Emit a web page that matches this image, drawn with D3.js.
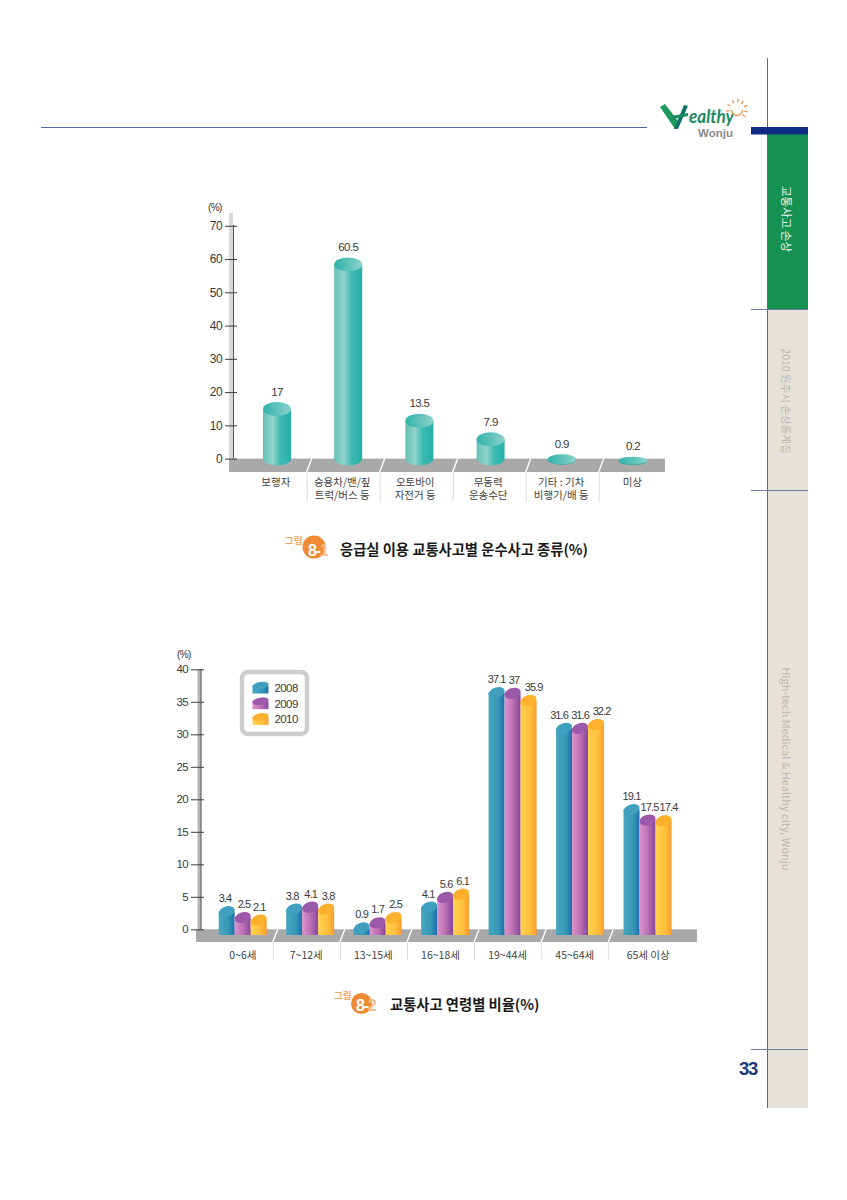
<!DOCTYPE html>
<html>
<head>
<meta charset="utf-8">
<script src="https://cdn.jsdelivr.net/npm/d3@7/dist/d3.min.js"></script>
<style>
html, body { margin: 0; padding: 0; background: #fff; }
svg { display: block; }
text { font-family: "Noto Sans CJK KR", "Liberation Sans", sans-serif; }
text.num, .tick text { font-family: "Liberation Sans", sans-serif; letter-spacing: -0.6px; }
text.tight { letter-spacing: -0.9px; }
</style>
</head>
<body>
<div id="page"></div>
<script>
// Figure 8-1
var modeCategories = [["보행자"], ["승용차/밴/짚", "트럭/버스 등"], ["오토바이", "자전거 등"], ["무동력", "운송수단"], ["기타 : 기차", "비행기/배 등"], ["미상"]];
var modeValues = [17, 60.5, 13.5, 7.9, 0.9, 0.2];
var modeTicks = [0, 10, 20, 30, 40, 50, 60, 70];

// Figure 8-2
var ageCategories = ["0~6세", "7~12세", "13~15세", "16~18세", "19~44세", "45~64세", "65세 이상"];
var years = ["2008", "2009", "2010"];
var values2008 = [3.4, 3.8, 0.9, 4.1, 37.1, 31.6, 19.1];
var values2009 = [2.5, 4.1, 1.7, 5.6, 37, 31.6, 17.5];
var values2010 = [2.1, 3.8, 2.5, 6.1, 35.9, 32.2, 17.4];
var ageTicks = [0, 5, 10, 15, 20, 25, 30, 35, 40];

var svg = d3.select("#page").append("svg")
    .attr("width", 847)
    .attr("height", 1200);
var defs = svg.append("defs");

function gradient(id, stops) {
  var g = defs.append("linearGradient").attr("id", id);
  stops.forEach(function(s) {
    g.append("stop").attr("offset", s[0]).attr("stop-color", s[1]);
  });
}

gradient("tealBody", [[0, "#62bfb6"], [0.35, "#93d4cc"], [0.62, "#3dbab2"], [1, "#27b0a9"]]);
gradient("tealTop", [[0, "#2fb3ab"], [1, "#8dd2ca"]]);
gradient("blueBody", [[0, "#49a6bf"], [0.6, "#3798b6"], [1, "#1c6fad"]]);
gradient("purpleBody", [[0, "#dc93cc"], [0.5, "#bd72b4"], [1, "#84459b"]]);
gradient("orangeBody", [[0, "#ffd050"], [0.6, "#ffc03c"], [1, "#f99b2c"]]);
var seriesFill = ["url(#blueBody)", "url(#purpleBody)", "url(#orangeBody)"];
var seriesTop = ["#3f9fbd", "#9c58a9", "#fdb02c"];

drawPageFrame();
drawModeChart();
drawAgeChart();
drawCaption(314, 547, 11.5, 308, 556, 285, 544, "8-", "1", "응급실 이용 교통사고별 운수사고 종류(%)", 340, 555);
drawCaption(361.5, 1003.5, 10.5, 356, 1011, 334, 999, "8-", "2", "교통사고 연령별 비율(%)", 390, 1010);

function yAxis(scale, ticks, x, left, right, size) {
  // axis ticks come from d3, then restyled to the long dark marks of the original
  var g = svg.append("g")
      .attr("transform", "translate(" + x + ",0)")
      .call(d3.axisLeft(scale).tickValues(ticks).tickSize(0).tickPadding(x - left + 3));
  g.select(".domain").remove();
  g.selectAll(".tick line")
      .attr("x1", left - x)
      .attr("x2", right - x)
      .attr("stroke", "#3d3d3d")
      .attr("stroke-width", 1);
  g.selectAll(".tick text")
      .style("font-size", size + "px")
      .attr("fill", "#3a3a3a");
  return g;
}

function drawModeChart() {
  var y = d3.scaleLinear().domain([0, 70]).range([458.6, 225.8]);
  var xBar = d3.scaleBand().domain(d3.range(6)).range([241.4, 668.6]);
  var xCell = d3.scaleLinear().domain([0, 5]).range([233.7, 598.7]);
  var barW = 28, ry = 7;
  var floorTop = y(0), floorBottom = 472;

  svg.append("rect").attr("x", 229).attr("y", 213).attr("width", 4).attr("height", floorTop - 213).attr("fill", "#d8d8d8");
  svg.append("line").attr("x1", 233.5).attr("x2", 233.5).attr("y1", 225).attr("y2", floorTop).attr("stroke", "#555").attr("stroke-width", 1);
  svg.append("rect").attr("x", 229).attr("y", floorTop).attr("width", 436).attr("height", floorBottom - floorTop).attr("fill", "#a9a9a9");
  yAxis(y, modeTicks, 233, 225, 237, 12);
  svg.append("text").attr("class", "num").attr("x", 208).attr("y", 211).attr("font-size", 10).attr("fill", "#333").text("(%)");

  // cell dividers on the floor and under it
  d3.range(1, 6).forEach(function(i) {
    var x = xCell(i);
    svg.append("line").attr("x1", x).attr("x2", x + 5).attr("y1", floorBottom).attr("y2", floorTop).attr("stroke", "#fff").attr("stroke-width", 1.4);
    svg.append("line").attr("x1", x + 0.5).attr("x2", x + 0.5).attr("y1", floorBottom).attr("y2", 502).attr("stroke", "#dcdcdc").attr("stroke-width", 1);
  });

  modeValues.forEach(function(v, i) {
    var x0 = xBar(i) + (xBar.bandwidth() - barW) / 2;
    var cx = x0 + barW / 2;
    var flat = y(v) + ry > y(0) - 2;       // the two smallest values are just discs
    var r = flat ? 3.6 + v * 1.5 : ry;
    var topY = flat ? y(v) + r - 1.3 : y(v) + ry;
    var baseY = y(0);
    if (flat) {
      svg.append("ellipse").attr("cx", cx).attr("cy", topY + 0.6).attr("rx", barW / 2).attr("ry", r).attr("fill", "#2ea69f");
    } else {
      svg.append("path")
          .attr("d", "M" + x0 + "," + topY + "L" + x0 + "," + baseY + "A" + barW / 2 + "," + ry + " 0 0 0 " + (x0 + barW) + "," + baseY + "L" + (x0 + barW) + "," + topY + "Z")
          .attr("fill", "url(#tealBody)");
    }
    svg.append("ellipse").attr("cx", cx).attr("cy", topY).attr("rx", barW / 2).attr("ry", r).attr("fill", "url(#tealTop)");
    svg.append("text").attr("class", "num")
        .attr("x", cx).attr("y", y(v) - (flat ? 7.5 : 6.5))
        .attr("text-anchor", "middle").attr("font-size", 11.5).attr("fill", "#3a3a3a")
        .text(v);
  });

  modeCategories.forEach(function(lines, i) {
    var left = i === 0 ? 247 : xCell(i);
    var right = i === 5 ? 668 : xCell(i + 1);
    var t = svg.append("text").attr("text-anchor", "middle").attr("font-size", 10.5).attr("fill", "#3f3f3f");
    lines.forEach(function(s, k) {
      t.append("tspan").attr("x", (left + right) / 2 - 1).attr("y", 486 + k * 13.4).text(s);
    });
  });
}

function drawAgeChart() {
  var y = d3.scaleLinear().domain([0, 40]).range([929.3, 669.3]);
  var xGroup = d3.scaleBand().domain(d3.range(7)).range([218.7, 691]);
  var xBar = d3.scaleBand().domain(d3.range(3)).range([0, 48]);
  var xCell = d3.scaleLinear().domain([0, 5]).range([272.7, 608.3]);
  var series = [values2008, values2009, values2010];
  var floorTop = y(0), floorBottom = 942;
  var baseY = 935;
  // small sideways shifts the original uses to keep neighbouring labels apart
  var labelDx = [[-1.7, -2, 0, -1, 0, -5, 0], [1.3, 0.5, 0, 1, 1.5, 0, 2], [0.6, 2, 2, 1.5, 5, 5.5, 5]];

  svg.append("rect").attr("x", 197.5).attr("y", 669).attr("width", 3.5).attr("height", floorTop - 669).attr("fill", "#b5b5b5");
  svg.append("line").attr("x1", 201).attr("x2", 201).attr("y1", 669).attr("y2", floorTop).attr("stroke", "#666").attr("stroke-width", 1.2);
  svg.append("rect").attr("x", 196).attr("y", floorTop).attr("width", 501).attr("height", floorBottom - floorTop).attr("fill", "#a9a9a9");
  yAxis(y, ageTicks, 201, 191, 204, 11.5);
  svg.append("text").attr("class", "num").attr("x", 177).attr("y", 658).attr("font-size", 10).attr("fill", "#333").text("(%)");

  d3.range(6).forEach(function(i) {
    var x = xCell(i);
    svg.append("line").attr("x1", x).attr("x2", x + 5).attr("y1", floorBottom).attr("y2", floorTop).attr("stroke", "#fff").attr("stroke-width", 1.4);
    svg.append("line").attr("x1", x + 0.5).attr("x2", x + 0.5).attr("y1", floorBottom).attr("y2", 960).attr("stroke", "#dcdcdc").attr("stroke-width", 1);
  });

  ageCategories.forEach(function(c, g) {
    series.forEach(function(vals, s) {
      var v = vals[g];
      var x0 = xGroup(g) + xBar(s);
      var w = xBar.bandwidth();
      var cx = x0 + w / 2;
      var topY = y(v) + 4.5;
      svg.append("rect").attr("x", x0).attr("y", topY).attr("width", w).attr("height", baseY - topY).attr("fill", seriesFill[s]);
      svg.append("ellipse")
          .attr("cx", cx).attr("cy", topY).attr("rx", w / 2 + 0.3).attr("ry", 5.2)
          .attr("transform", "rotate(-18," + cx + "," + topY + ")")
          .attr("fill", seriesTop[s]);
    });
  });

  // labels go last so no neighbouring bar top covers them
  ageCategories.forEach(function(c, g) {
    series.forEach(function(vals, s) {
      var v = vals[g];
      svg.append("text").attr("class", "num tight")
          .attr("x", xGroup(g) + xBar(s) + xBar.bandwidth() / 2 + labelDx[s][g]).attr("y", y(v) - 5)
          .attr("text-anchor", "middle").attr("font-size", 11).attr("fill", "#3a3a3a")
          .text(v);
    });
    var left = g === 0 ? 213 : xCell(g - 1);
    var right = g === 6 ? 688 : xCell(g);
    svg.append("text").attr("x", (left + right) / 2).attr("y", 959)
        .attr("text-anchor", "middle").attr("font-size", 10.5).attr("fill", "#3f3f3f").text(c);
  });

  // Legend
  svg.append("rect").attr("x", 242).attr("y", 672).attr("width", 65).attr("height", 62).attr("rx", 6)
      .attr("fill", "#fff").attr("stroke", "#cdcdcd").attr("stroke-width", 4.5);
  years.forEach(function(yr, i) {
    var ly = 688 + i * 15.7;
    svg.append("rect").attr("x", 252.5).attr("y", ly - 2.5).attr("width", 16).attr("height", 8).attr("fill", seriesFill[i]);
    svg.append("ellipse").attr("cx", 260.5).attr("cy", ly - 2.5).attr("rx", 8.2).attr("ry", 3.6)
        .attr("transform", "rotate(-10,260.5," + (ly - 2.5) + ")").attr("fill", seriesTop[i]);
    svg.append("text").attr("class", "num").attr("x", 274.5).attr("y", ly + 4).attr("font-size", 11.5).attr("fill", "#3a3a3a").text(yr);
  });
}

function drawCaption(cx, cy, r, numX, numY, wordX, wordY, num, digit, title, titleX, titleY) {
  svg.append("text").attr("x", wordX).attr("y", wordY).attr("font-size", 9.5).attr("font-weight", 700).attr("fill", "#f3a76b").text("그림");
  svg.append("circle").attr("cx", cx).attr("cy", cy).attr("r", r).attr("fill", "#f08a33");
  var t = svg.append("text").attr("x", numX).attr("y", numY)
      .attr("font-size", 16).attr("font-weight", 700)
      .style("letter-spacing", "-1.2px")
      .style("font-family", '"Liberation Sans", sans-serif');
  t.append("tspan").attr("fill", "#fff").text(num);
  t.append("tspan").attr("fill", "#f6bd8a").text(digit);
  svg.append("text").attr("x", titleX).attr("y", titleY).attr("font-size", 14.3).attr("font-weight", 700).attr("fill", "#1a1a1a").text(title);
}

function drawPageFrame() {
  var line = "#4f6aa0";
  svg.append("rect").attr("x", 767).attr("y", 134).attr("width", 41).attr("height", 175).attr("fill", "#15924f");
  svg.append("rect").attr("x", 767).attr("y", 309).attr("width", 41).attr("height", 799).attr("fill", "#e6e2da");
  svg.append("line").attr("x1", 41).attr("x2", 647).attr("y1", 127.5).attr("y2", 127.5).attr("stroke", line).attr("stroke-width", 1);
  svg.append("line").attr("x1", 767.5).attr("x2", 767.5).attr("y1", 58).attr("y2", 1108).attr("stroke", line).attr("stroke-width", 1);
  svg.append("rect").attr("x", 751).attr("y", 127).attr("width", 57).attr("height", 7.5).attr("fill", "#0f2d85");
  [309, 490, 1049].forEach(function(yy) {
    svg.append("line").attr("x1", 751).attr("x2", 808).attr("y1", yy + 0.5).attr("y2", yy + 0.5).attr("stroke", "#6f7f9f").attr("stroke-width", 1);
  });

  var side = [
    { text: "교통사고 손상", y: 219, fill: "#e8f3ea", size: 11.5 },
    { text: "2010 원주시 손상통계집", y: 401, fill: "#bcb8af", size: 10.5 },
    { text: "High-tech Medical & Healthy city, Wonju", y: 769, fill: "#bcb8af", size: 11 }
  ];
  side.forEach(function(s) {
    svg.append("text")
        .attr("transform", "translate(782," + s.y + ") rotate(90)")
        .attr("text-anchor", "middle")
        .attr("font-size", s.size).attr("fill", s.fill).text(s.text);
  });

  svg.append("text").attr("class", "num").attr("x", 739).attr("y", 1075)
      .attr("font-size", 18.5).attr("font-weight", 700).attr("fill", "#1d3a7d")
      .style("letter-spacing", "-1.3px").text("33");

  // Logo
  svg.append("path").attr("d", "M660,107 L665,104 L678,121 L675,129 Z").attr("fill", "#1f9a5c");
  svg.append("path").attr("d", "M684,105 L688,106 L678,129 L674,129 Z").attr("fill", "#126f6b");
  svg.append("path").attr("d", "M671,116 L688,113 L688,116 L673,119 Z").attr("fill", "#1b8a62");
  svg.append("text").attr("x", 689).attr("y", 123)
      .attr("font-size", 19).attr("font-style", "italic").attr("font-weight", 700).attr("fill", "#1b8a62")
      .attr("textLength", 45).attr("lengthAdjust", "spacingAndGlyphs")
      .style("font-family", "Lato, sans-serif").text("ealthy");
  svg.append("text").attr("x", 698).attr("y", 137)
      .attr("font-size", 11.5).attr("font-weight", 700).attr("fill", "#8a8a8a")
      .style("font-family", '"Liberation Sans", sans-serif').text("Wonju");
  svg.append("path").attr("d", "M731.5,110 A5.5,5.5 0 1 0 742.5,110").attr("fill", "none").attr("stroke", "#ee9a4d").attr("stroke-width", 1.4);
  [-150, -115, -85, -55, -25, 10, 40, 175].forEach(function(a) {
    var r = a * Math.PI / 180;
    svg.append("line")
        .attr("x1", 737 + 7.5 * Math.cos(r)).attr("y1", 110 + 7.5 * Math.sin(r))
        .attr("x2", 737 + 11 * Math.cos(r)).attr("y2", 110 + 11 * Math.sin(r))
        .attr("stroke", "#ee9a4d").attr("stroke-width", 1.4);
  });
}
</script>
</body>
</html>
